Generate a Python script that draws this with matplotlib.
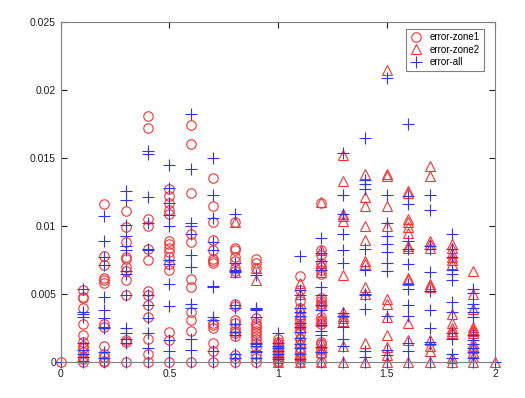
import numpy as np
import matplotlib
matplotlib.use('Agg')
import matplotlib.pyplot as plt
from matplotlib.ticker import FuncFormatter

# x positions of each column of samples
zone1_x = [0.0, 0.1, 0.2, 0.3, 0.4, 0.5, 0.6, 0.7, 0.8, 0.9, 1.0, 1.1, 1.2]
zone2_x = [0.8, 0.9, 1.0, 1.1, 1.2, 1.3, 1.4, 1.5, 1.6, 1.7, 1.8, 1.9, 2.0]
all_x = [0.0, 0.1, 0.2, 0.3, 0.4, 0.5, 0.6, 0.7, 0.8, 0.9, 1.0,
         1.1, 1.2, 1.3, 1.4, 1.5, 1.6, 1.7, 1.8, 1.9, 2.0]

# error values, one list per column
zone1_err = [
    [0],
    [0.0053, 0.0048, 0.0047, 0.0040, 0.0028, 0.0020, 0.0015, 0.0012, 0.0010, 0.0007, 0.0004, 0.0002, 0],
    [0.0116, 0.0078, 0.0071, 0.0062, 0.0060, 0.0058, 0.0028, 0.0026, 0.0012, 0.0006, 0.0004, 0.0001, 0],
    [0.0111, 0.0099, 0.0088, 0.0077, 0.0076, 0.0070, 0.0067, 0.0060, 0.0049, 0.0016, 0.0015, 0],
    [0.0181, 0.0172, 0.0105, 0.0100, 0.0083, 0.0075, 0.0052, 0.0049, 0.0042, 0.0033, 0.0017, 0.0006, 0],
    [0.0127, 0.0122, 0.0117, 0.0112, 0.0109, 0.0089, 0.0087, 0.0084, 0.0081, 0.0077, 0.0072, 0.0068, 0.0022, 0.0016, 0],
    [0.0174, 0.0160, 0.0124, 0.0094, 0.0088, 0.0061, 0.0055, 0.0037, 0.0031, 0.0023, 0],
    [0.0135, 0.0115, 0.0103, 0.0090, 0.0082, 0.0076, 0.0074, 0.0073, 0.0029, 0.0027, 0.0025, 0.0014, 0.0008, 0],
    [0.0103, 0.0084, 0.0082, 0.0077, 0.0074, 0.0069, 0.0067, 0.0043, 0.0041, 0.0031, 0.0029, 0.0025, 0.0023,
     0.0021, 0.0019, 0.0005, 0.0003, 0],
    [0.0076, 0.0073, 0.0069, 0.0032, 0.0029, 0.0027, 0.0025, 0.0023, 0.0021, 0.0019, 0.0017, 0.0014, 0.0011,
     0.0006, 0.0003, 0],
    [0.0017, 0.0015, 0.0013, 0.0011, 0.0009, 0.0007, 0.0005, 0.0003, 0.0001, 0],
    [0.0063, 0.0053, 0.0045, 0.0040, 0.0033, 0.0030, 0.0027, 0.0024, 0.0021, 0.0017, 0.0013, 0.0010, 0.0007,
     0.0004, 0.0002, 0],
    [0.0117, 0.0082, 0.0079, 0.0073, 0.0070, 0.0068, 0.0065, 0.0047, 0.0045, 0.0043, 0.0041, 0.0033, 0.0031,
     0.0028, 0.0015, 0.0013, 0.0009, 0.0006, 0],
]

zone2_err = [
    [0.0103, 0.0066],
    [0.0069, 0.0060],
    [0.0015, 0.0012, 0.0009, 0.0006, 0.0003, 0],
    [0.0058, 0.0050, 0.0040, 0.0035, 0.0029, 0.0026, 0.0020, 0.0015, 0.0010, 0.0005, 0],
    [0.0118, 0.0082, 0.0073, 0.0066, 0.0045, 0.0042, 0.0032, 0.0030, 0.0014, 0.0010, 0.0007, 0],
    [0.0152, 0.0133, 0.0109, 0.0107, 0.0104, 0.0064, 0.0037, 0.0034, 0.0032, 0.0030, 0.0012, 0],
    [0.0138, 0.0121, 0.0115, 0.0100, 0.0090, 0.0074, 0.0072, 0.0055, 0.0050, 0.0014, 0],
    [0.0215, 0.0138, 0.0137, 0.0115, 0.0100, 0.0046, 0.0043, 0.0033, 0.0020, 0.0011, 0.0005, 0],
    [0.0126, 0.0124, 0.0105, 0.0103, 0.0099, 0.0095, 0.0085, 0.0084, 0.0062, 0.0060, 0.0029, 0.0016, 0],
    [0.0144, 0.0137, 0.0089, 0.0087, 0.0084, 0.0057, 0.0056, 0.0055, 0.0016, 0.0012, 0.0008, 0],
    [0.0087, 0.0084, 0.0080, 0.0077, 0.0075, 0.0072, 0.0035, 0.0029, 0.0025, 0.0023, 0.0021, 0.0003, 0],
    [0.0067, 0.0050, 0.0039, 0.0026, 0.0024, 0.0023, 0.0021, 0.0014, 0.0012, 0.0010, 0.0007, 0.0004, 0],
    [0],
]

all_err = [
    [0],
    [0.0054, 0.0037, 0.0035, 0.0033, 0.0014, 0.0009, 0.0006, 0.0004, 0.0001, 0],
    [0.0107, 0.0089, 0.0077, 0.0071, 0.0048, 0.0038, 0.0032, 0.0026, 0.0025, 0.0007, 0.0003, 0],
    [0.0126, 0.0119, 0.0101, 0.0093, 0.0085, 0.0082, 0.0067, 0.0065, 0.0049, 0.0025, 0.0021, 0.0017, 0.0014, 0],
    [0.0155, 0.0153, 0.0121, 0.0102, 0.0083, 0.0082, 0.0049, 0.0042, 0.0032, 0.0021, 0.0010, 0],
    [0.0145, 0.0128, 0.0117, 0.0108, 0.0100, 0.0075, 0.0072, 0.0057, 0.0041, 0.0016, 0.0008, 0],
    [0.0182, 0.0142, 0.0102, 0.0100, 0.0094, 0.0079, 0.0070, 0.0043, 0.0040, 0.0017, 0.0009, 0],
    [0.0150, 0.0123, 0.0106, 0.0088, 0.0082, 0.0056, 0.0055, 0.0033, 0.0031, 0.0008, 0],
    [0.0109, 0.0073, 0.0068, 0.0067, 0.0066, 0.0042, 0.0040, 0.0028, 0.0022, 0.0020, 0.0006, 0.0003, 0],
    [0.0064, 0.0040, 0.0039, 0.0038, 0.0033, 0.0014, 0.0013, 0.0012, 0.0008, 0.0007, 0.0003, 0],
    [0.0021, 0.0014, 0.0012, 0.0010, 0.0008, 0.0006, 0.0004, 0.0002, 0],
    [0.0078, 0.0053, 0.0049, 0.0040, 0.0037, 0.0034, 0.0029, 0.0026, 0.0022, 0.0018, 0.0013, 0.0010, 0.0006,
     0.0002, 0],
    [0.0091, 0.0080, 0.0074, 0.0068, 0.0055, 0.0049, 0.0042, 0.0038, 0.0027, 0.0023, 0.0020, 0.0011, 0.0007, 0],
    [0.0154, 0.0123, 0.0109, 0.0094, 0.0082, 0.0073, 0.0036, 0.0034, 0.0026, 0.0017, 0.0012, 0],
    [0.0165, 0.0134, 0.0131, 0.0127, 0.0083, 0.0068, 0.0050, 0.0049, 0.0039, 0.0008, 0.0004, 0],
    [0.0209, 0.0123, 0.0102, 0.0093, 0.0087, 0.0081, 0.0073, 0.0067, 0.0034, 0.0009, 0.0005, 0],
    [0.0175, 0.0122, 0.0116, 0.0089, 0.0083, 0.0072, 0.0057, 0.0054, 0.0042, 0.0034, 0.0014, 0.0008, 0],
    [0.0123, 0.0112, 0.0085, 0.0083, 0.0066, 0.0052, 0.0038, 0.0025, 0.0015, 0.0013, 0],
    [0.0094, 0.0083, 0.0077, 0.0068, 0.0065, 0.0060, 0.0044, 0.0037, 0.0021, 0.0017, 0.0006, 0.0003, 0],
    [0.0054, 0.0051, 0.0043, 0.0040, 0.0037, 0.0033, 0.0020, 0.0016, 0.0013, 0.0010, 0.0007, 0.0003, 0],
    [0],
]


def flatten(xs, cols):
    px = []
    py = []
    for x, vals in zip(xs, cols):
        px += [x] * len(vals)
        py += vals
    return px, py


plt.rcParams['font.family'] = ['Liberation Sans', 'DejaVu Sans']

fig = plt.figure(figsize=(5.25, 3.98), dpi=100)
ax = fig.add_axes([0.116, 0.0905, 0.827, 0.8542])

x1, y1 = flatten(zone1_x, zone1_err)
x2, y2 = flatten(zone2_x, zone2_err)
x3, y3 = flatten(all_x, all_err)

# red open markers for the zones, blue crosses for all
ax.plot(x1, y1, 'o', mfc='none', mec='#ff3333', ms=6.8, mew=0.8, label='error-zone1', clip_on=False)
ax.plot(x2, y2, '^', mfc='none', mec='#ff3333', ms=7.2, mew=0.8, label='error-zone2', clip_on=False)
ax.plot(x3, y3, '+', color='#3333ff', ms=8, mew=0.8, label='error-all', clip_on=False)

ax.set_xlim(0, 2)
ax.set_ylim(0, 0.025)
ax.set_xticks([0, 0.5, 1, 1.5, 2])
ax.set_yticks([0, 0.005, 0.01, 0.015, 0.02, 0.025])
fmt = FuncFormatter(lambda v, p: '%g' % round(v, 6))
ax.xaxis.set_major_formatter(fmt)
ax.yaxis.set_major_formatter(fmt)
ax.tick_params(direction='in', top=True, right=True, length=4, labelsize=7.5,
               colors='#202020', width=0.8)
ax.tick_params(axis='x', pad=5)
for s in ax.spines.values():
    s.set_color('#808080')
    s.set_linewidth(0.8)

leg = ax.legend(loc='upper right', fontsize=7, fancybox=False, framealpha=1,
                edgecolor='#808080', handlelength=1.2, borderpad=0.4,
                labelspacing=0.25, bbox_to_anchor=(0.985, 0.995))
leg.get_frame().set_linewidth(0.8)

fig.savefig('out.png', dpi=100)
